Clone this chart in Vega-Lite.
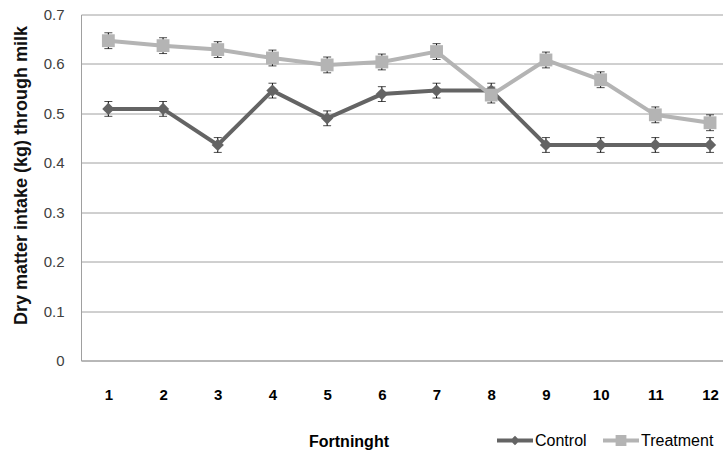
{
  "$schema": "https://vega.github.io/schema/vega-lite/v6.json",
  "width": 642,
  "height": 346,
  "autosize": {"type": "none"},
  "padding": {"left": 81, "top": 14.5, "right": 0, "bottom": 94.5},
  "background": "white",
  "config": {
    "view": {"stroke": null},
    "legend": {
      "orient": "none",
      "legendX": 416,
      "legendY": 408,
      "direction": "horizontal",
      "title": null,
      "padding": 0,
      "labelFont": "Liberation Sans",
      "labelFontSize": 16,
      "labelColor": "#000000",
      "labelOffset": 2,
      "columnPadding": 16,
      "symbolSize": 1296,
      "symbolStrokeWidth": 0,
      "symbolOpacity": 1
    }
  },
  "data": {
    "values": [
      {"series": "Control", "fortnight": 1, "value": 0.509, "se": 0.015},
      {"series": "Control", "fortnight": 2, "value": 0.509, "se": 0.015},
      {"series": "Control", "fortnight": 3, "value": 0.436, "se": 0.015},
      {"series": "Control", "fortnight": 4, "value": 0.546, "se": 0.015},
      {"series": "Control", "fortnight": 5, "value": 0.490, "se": 0.015},
      {"series": "Control", "fortnight": 6, "value": 0.539, "se": 0.015},
      {"series": "Control", "fortnight": 7, "value": 0.546, "se": 0.015},
      {"series": "Control", "fortnight": 8, "value": 0.546, "se": 0.015},
      {"series": "Control", "fortnight": 9, "value": 0.436, "se": 0.015},
      {"series": "Control", "fortnight": 10, "value": 0.436, "se": 0.015},
      {"series": "Control", "fortnight": 11, "value": 0.436, "se": 0.015},
      {"series": "Control", "fortnight": 12, "value": 0.436, "se": 0.015},
      {"series": "Treatment", "fortnight": 1, "value": 0.647, "se": 0.016},
      {"series": "Treatment", "fortnight": 2, "value": 0.637, "se": 0.016},
      {"series": "Treatment", "fortnight": 3, "value": 0.629, "se": 0.016},
      {"series": "Treatment", "fortnight": 4, "value": 0.612, "se": 0.016},
      {"series": "Treatment", "fortnight": 5, "value": 0.598, "se": 0.016},
      {"series": "Treatment", "fortnight": 6, "value": 0.604, "se": 0.016},
      {"series": "Treatment", "fortnight": 7, "value": 0.625, "se": 0.016},
      {"series": "Treatment", "fortnight": 8, "value": 0.537, "se": 0.016},
      {"series": "Treatment", "fortnight": 9, "value": 0.608, "se": 0.016},
      {"series": "Treatment", "fortnight": 10, "value": 0.568, "se": 0.016},
      {"series": "Treatment", "fortnight": 11, "value": 0.497, "se": 0.016},
      {"series": "Treatment", "fortnight": 12, "value": 0.481, "se": 0.016}
    ]
  },
  "encoding": {
    "x": {
      "field": "fortnight",
      "type": "quantitative",
      "scale": {"domain": [0.5, 12.237], "nice": false, "zero": false},
      "axis": {
        "title": "Fortninght",
        "values": [1, 2, 3, 4, 5, 6, 7, 8, 9, 10, 11, 12],
        "format": "d",
        "grid": false,
        "ticks": false,
        "tickSize": 0,
        "domain": true,
        "domainColor": "#a0a0a0",
        "domainWidth": 1,
        "labelFont": "Liberation Sans",
        "labelFontWeight": "bold",
        "labelFontSize": 15,
        "labelColor": "#000000",
        "labelBaseline": "alphabetic",
        "labelPadding": 39,
        "labelFlush": false,
        "labelOverlap": false,
        "titleFont": "Liberation Sans",
        "titleFontWeight": "bold",
        "titleFontSize": 16,
        "titleColor": "#000000",
        "titleX": 267.5,
        "titleY": 86,
        "titleAlign": "center",
        "titleBaseline": "alphabetic"
      }
    },
    "y": {
      "field": "value",
      "type": "quantitative",
      "scale": {"domain": [0, 0.7], "nice": false, "zero": true},
      "axis": {
        "title": "Dry matter intake (kg) through milk",
        "values": [0, 0.1, 0.2, 0.3, 0.4, 0.5, 0.6, 0.7],
        "format": ".1~f",
        "grid": true,
        "gridColor": "#a0a0a0",
        "gridWidth": 1,
        "ticks": false,
        "tickSize": 0,
        "domain": true,
        "domainColor": "#a0a0a0",
        "domainWidth": 1,
        "labelFont": "Liberation Sans",
        "labelFontSize": 15,
        "labelColor": "#404040",
        "labelPadding": 17,
        "labelBaseline": "middle",
        "titleFont": "Liberation Sans",
        "titleFontWeight": "bold",
        "titleFontSize": 18,
        "titleColor": "#111111",
        "titleX": -60,
        "titleY": 160.5,
        "titleAngle": -90,
        "titleAlign": "center",
        "titleBaseline": "middle"
      }
    }
  },
  "layer": [
    {
      "mark": {"type": "errorbar", "ticks": {"size": 8}, "color": "black", "thickness": 1},
      "encoding": {"yError": {"field": "se"}}
    },
    {
      "mark": {"type": "line", "strokeWidth": 4},
      "encoding": {
        "color": {
          "field": "series",
          "type": "nominal",
          "scale": {"domain": ["Control", "Treatment"], "range": ["#646464", "#b4b4b4"]}
        },
        "detail": {"field": "series"}
      }
    },
    {
      "transform": [{"filter": "datum.series === 'Control'"}],
      "mark": {"type": "point", "shape": "diamond", "filled": true, "size": 150, "opacity": 1},
      "encoding": {
        "color": {"field": "series", "type": "nominal"}
      }
    },
    {
      "transform": [{"filter": "datum.series === 'Treatment'"}],
      "mark": {"type": "point", "shape": "square", "filled": true, "size": 165, "opacity": 1},
      "encoding": {
        "color": {"field": "series", "type": "nominal"}
      }
    },
    {
      "transform": [{"filter": "false"}],
      "mark": {"type": "point", "filled": true, "opacity": 1},
      "encoding": {
        "color": {"field": "series", "type": "nominal"},
        "shape": {
          "field": "series",
          "type": "nominal",
          "scale": {
            "domain": ["Control", "Treatment"],
            "range": [
              "M-1,-0.11H1V0.11H-1Z M0,-0.27L0.27,0L0,0.27L-0.27,0Z",
              "M-1,-0.11H1V0.11H-1Z M-0.3,-0.3H0.3V0.3H-0.3Z"
            ]
          }
        }
      }
    }
  ]
}
